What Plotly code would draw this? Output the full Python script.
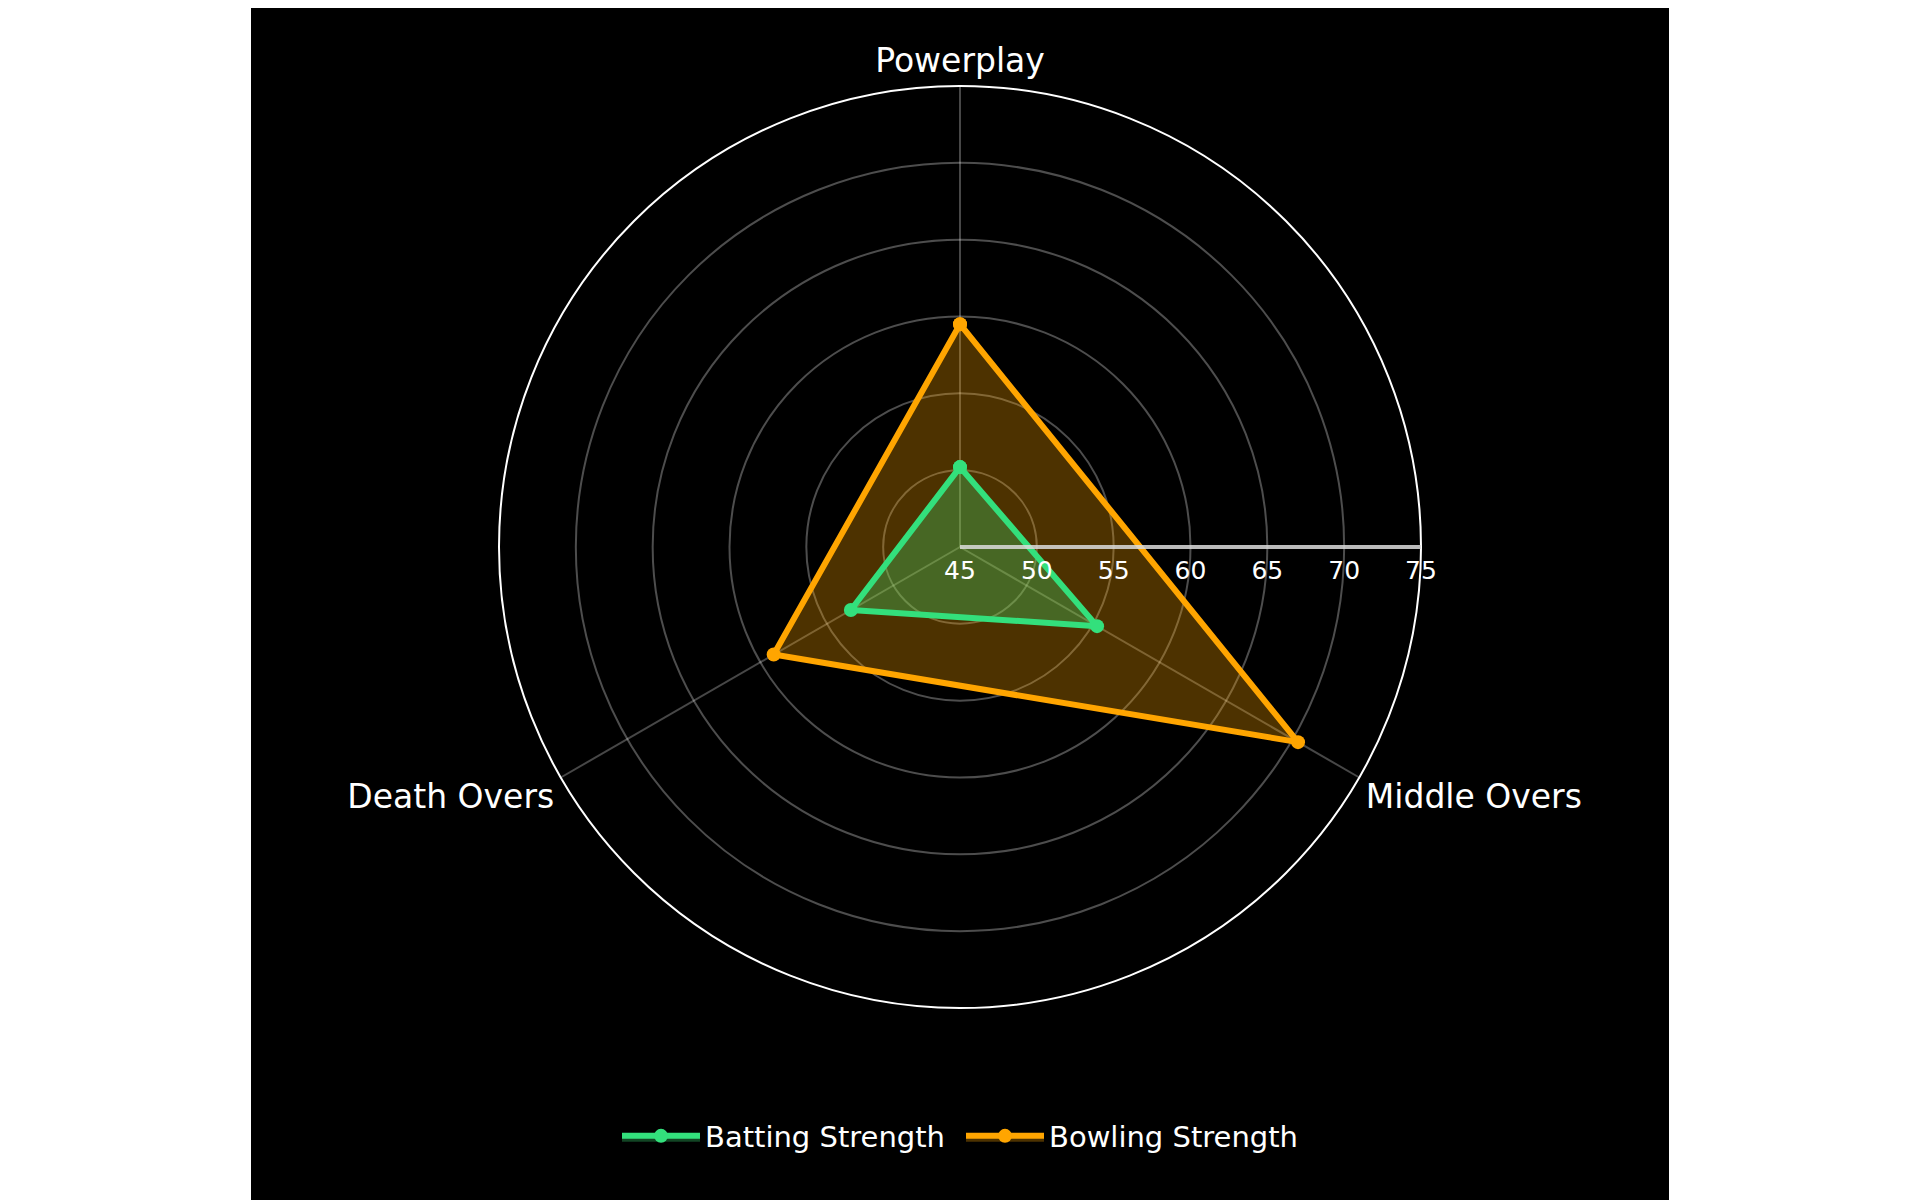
#!/usr/bin/env python3
import logging

import plotly.graph_objects as go

logging.basicConfig(level=logging.INFO, format='%(asctime)s - %(levelname)s - %(message)s')
logger = logging.getLogger(__name__)

# Phases of the innings (clockwise from top)
phases = ["Powerplay", "Middle Overs", "Death Overs"]

# Strength scores per phase
batting_strength = [50.2, 55.3, 53.2]
bowling_strength = [59.5, 70.4, 59.0]

# Radial axis ticks
radial_ticks = [45, 50, 55, 60, 65, 70, 75]

# Canvas geometry (px) - page body has an 8px margin
W, H = 1904, 1192
M_L, M_R, M_T, M_B = 243, 243, 78, 192


def closed(vals):
    # repeat first point so the polygon closes
    return list(vals) + [vals[0]]


def build_figure() -> go.Figure:
    fig = go.Figure()
    theta = closed(phases)

    # bowling first so the batting polygon sits on top
    fig.add_trace(go.Scatterpolar(
        r=closed(bowling_strength), theta=theta, name="Bowling Strength",
        mode="lines+markers", fill="toself",
        line=dict(color="#FFA500", width=6), marker=dict(size=14, color="#FFA500"),
        fillcolor="rgba(255,165,0,0.3)"
    ))
    fig.add_trace(go.Scatterpolar(
        r=closed(batting_strength), theta=theta, name="Batting Strength",
        mode="lines+markers", fill="toself",
        line=dict(color="#33e07c", width=6), marker=dict(size=14, color="#33e07c"),
        fillcolor="rgba(60,230,120,0.3)"
    ))

    plot_h = H - M_T - M_B
    plot_w = W - M_L - M_R
    # black card behind the whole chart, plot-area wide
    fig.add_shape(type="rect", xref="paper", yref="paper",
                  x0=0, x1=1, y0=-M_B / plot_h, y1=1 + M_T / plot_h,
                  fillcolor="black", line=dict(width=0), layer="below")

    fig.update_layout(
        width=W, height=H,
        margin=dict(l=M_L, r=M_R, t=M_T, b=M_B),
        paper_bgcolor="white", plot_bgcolor="black",
        font=dict(family="DejaVu Sans, Verdana, sans-serif", color="white"),
        polar=dict(
            bgcolor="black",
            radialaxis=dict(
                range=[radial_ticks[0], radial_ticks[-1]], tickvals=radial_ticks,
                showline=True, linecolor="rgba(220,220,220,0.85)", linewidth=4,
                gridcolor="rgba(255,255,255,0.3)", gridwidth=2,
                tickfont=dict(size=25, color="white"), ticks=""
            ),
            angularaxis=dict(
                rotation=90, direction="clockwise",
                linecolor="white", linewidth=2,
                gridcolor="rgba(255,255,255,0.28)", gridwidth=2,
                tickfont=dict(size=33, color="white"), ticks=""
            ),
        ),
        showlegend=True,
        legend=dict(orientation="h", x=0.5 + 1 / plot_w, xanchor="center",
                    y=-128 / plot_h, yanchor="middle", traceorder="reversed",
                    itemwidth=78, entrywidth=251, entrywidthmode="pixels",
                    font=dict(size=29, color="white"), bgcolor="rgba(0,0,0,0)"),
    )
    return fig


def main():
    fig = build_figure()
    fig.write_html("out.html")
    logger.info("wrote out.html")


if __name__ == "__main__":
    main()
